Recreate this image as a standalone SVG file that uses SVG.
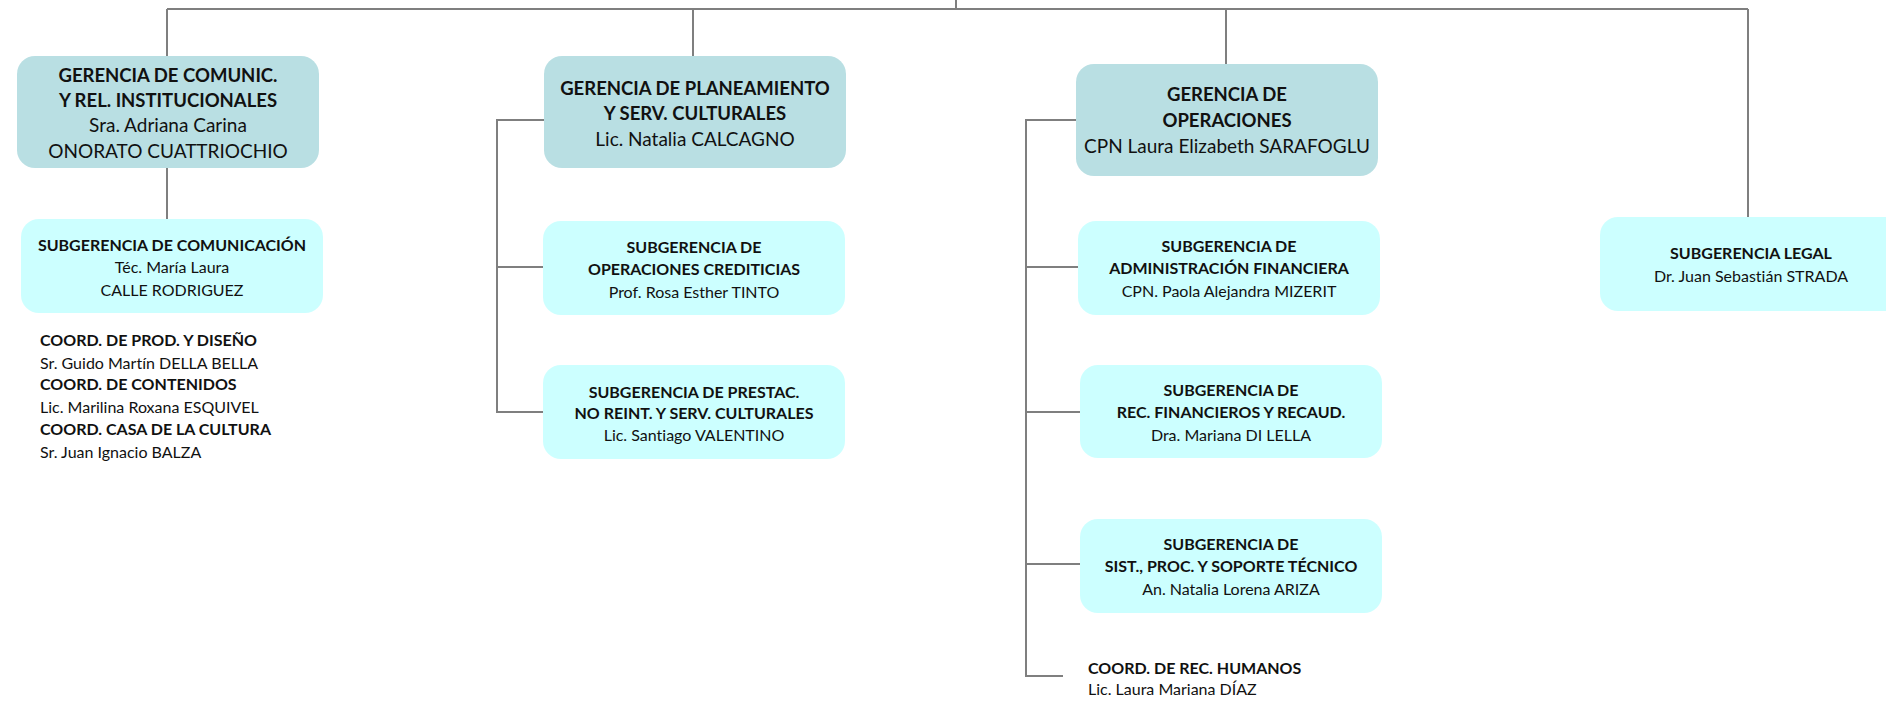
<svg xmlns="http://www.w3.org/2000/svg" width="1886" height="703" viewBox="0 0 1886 703">
<style>
.g{fill:#B9DFE3}
.s{fill:#CCFFFF}
.c{fill:none;stroke:#7F7F7F;stroke-width:2}
text{font-family:Lato,"Liberation Sans",sans-serif;fill:#111;font-variant-ligatures:none}
.gt{font-size:19px;text-anchor:middle}
.gt.b{font-size:18.5px}
.st{font-size:16px;text-anchor:middle}
.ct{font-size:16px}
.b{font-weight:bold}
</style>
<rect width="1886" height="703" fill="#fff"/>
<g id="connectors" class="c">
<path d="M956,0V9"/>
<path d="M167,9H1748"/>
<path d="M167,9V56"/>
<path d="M693,9V56"/>
<path d="M1226,9V64"/>
<path d="M1748,9V217"/>
<path d="M167,168V219"/>
<path d="M544,120H497V412H543"/>
<path d="M497,267H543"/>
<path d="M1076,120H1026V676H1063"/>
<path d="M1026,267H1078"/>
<path d="M1026,412H1080"/>
<path d="M1026,564H1080"/>
</g>
<g id="gerencia-comunic">
<rect class="g" x="17" y="56" width="302" height="112" rx="18"/>
<text class="gt b" x="168" y="82">GERENCIA DE COMUNIC.</text>
<text class="gt b" x="168" y="107">Y REL. INSTITUCIONALES</text>
<text class="gt" x="168" y="132">Sra. Adriana Carina</text>
<text class="gt" x="168" y="158">ONORATO CUATTRIOCHIO</text>
</g>
<g id="sub-comunicacion">
<rect class="s" x="21" y="219" width="302" height="94" rx="18"/>
<text class="st b" x="172" y="251">SUBGERENCIA DE COMUNICACIÓN</text>
<text class="st" x="172" y="273">Téc. María Laura</text>
<text class="st" x="172" y="296">CALLE RODRIGUEZ</text>
</g>
<g id="coord-comunic">
<text class="ct b" x="40" y="346">COORD. DE PROD. Y DISEÑO</text>
<text class="ct" x="40" y="369">Sr. Guido Martín DELLA BELLA</text>
<text class="ct b" x="40" y="390">COORD. DE CONTENIDOS</text>
<text class="ct" x="40" y="413">Lic. Marilina Roxana ESQUIVEL</text>
<text class="ct b" x="40" y="435">COORD. CASA DE LA CULTURA</text>
<text class="ct" x="40" y="458">Sr. Juan Ignacio BALZA</text>
</g>
<g id="gerencia-planeamiento">
<rect class="g" x="544" y="56" width="302" height="112" rx="18"/>
<text class="gt b" x="695" y="95">GERENCIA DE PLANEAMIENTO</text>
<text class="gt b" x="695" y="120">Y SERV. CULTURALES</text>
<text class="gt" x="695" y="146">Lic. Natalia CALCAGNO</text>
</g>
<g id="sub-op-crediticias">
<rect class="s" x="543" y="221" width="302" height="94" rx="18"/>
<text class="st b" x="694" y="253">SUBGERENCIA DE</text>
<text class="st b" x="694" y="275">OPERACIONES CREDITICIAS</text>
<text class="st" x="694" y="298">Prof. Rosa Esther TINTO</text>
</g>
<g id="sub-prestac">
<rect class="s" x="543" y="365" width="302" height="94" rx="18"/>
<text class="st b" x="694" y="398">SUBGERENCIA DE PRESTAC.</text>
<text class="st b" x="694" y="419">NO REINT. Y SERV. CULTURALES</text>
<text class="st" x="694" y="441">Lic. Santiago VALENTINO</text>
</g>
<g id="gerencia-operaciones">
<rect class="g" x="1076" y="64" width="302" height="112" rx="18"/>
<text class="gt b" x="1227" y="101">GERENCIA DE</text>
<text class="gt b" x="1227" y="127">OPERACIONES</text>
<text class="gt" x="1227" y="153">CPN Laura Elizabeth SARAFOGLU</text>
</g>
<g id="sub-adm-financiera">
<rect class="s" x="1078" y="221" width="302" height="94" rx="18"/>
<text class="st b" x="1229" y="252">SUBGERENCIA DE</text>
<text class="st b" x="1229" y="274">ADMINISTRACIÓN FINANCIERA</text>
<text class="st" x="1229" y="297">CPN. Paola Alejandra MIZERIT</text>
</g>
<g id="sub-rec-financieros">
<rect class="s" x="1080" y="365" width="302" height="93" rx="18"/>
<text class="st b" x="1231" y="396">SUBGERENCIA DE</text>
<text class="st b" x="1231" y="418">REC. FINANCIEROS Y RECAUD.</text>
<text class="st" x="1231" y="441">Dra. Mariana DI LELLA</text>
</g>
<g id="sub-sistemas">
<rect class="s" x="1080" y="519" width="302" height="94" rx="18"/>
<text class="st b" x="1231" y="550">SUBGERENCIA DE</text>
<text class="st b" x="1231" y="572">SIST., PROC. Y SOPORTE TÉCNICO</text>
<text class="st" x="1231" y="595">An. Natalia Lorena ARIZA</text>
</g>
<g id="coord-rrhh">
<text class="ct b" x="1088" y="674">COORD. DE REC. HUMANOS</text>
<text class="ct" x="1088" y="695">Lic. Laura Mariana DÍAZ</text>
</g>
<g id="sub-legal">
<rect class="s" x="1600" y="217" width="302" height="94" rx="18"/>
<text class="st b" x="1751" y="259">SUBGERENCIA LEGAL</text>
<text class="st" x="1751" y="282">Dr. Juan Sebastián STRADA</text>
</g>
</svg>
